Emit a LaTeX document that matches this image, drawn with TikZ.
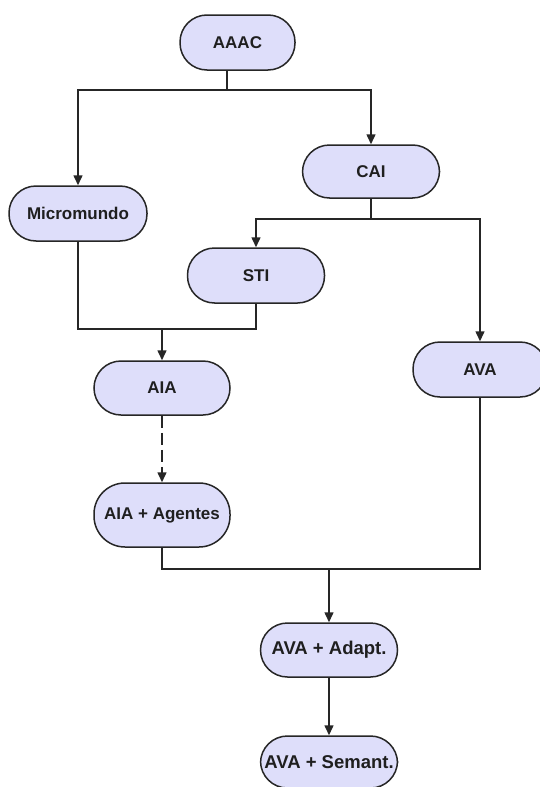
\documentclass[tikz,border=0pt]{standalone}
\usepackage{fontspec}
\setmainfont{Liberation Sans}
\usetikzlibrary{arrows.meta}
\definecolor{boxfill}{RGB}{222,222,250}
\definecolor{ink}{RGB}{38,38,38}
\begin{document}
\begin{tikzpicture}[x=1pt,y=-1pt,
  stage/.style={draw=ink, line width=1.5pt, fill=boxfill, rounded corners=27pt,
    minimum width=137pt, minimum height=55pt, inner sep=0pt,
    font=\fontsize{17}{20}\selectfont\bfseries, text=black!88},
  bigtext/.style={font=\fontsize{18.5}{21}\selectfont\bfseries},
  link/.style={draw=ink, line width=1.5pt},
  arr/.style={link, -{Triangle[length=10pt,width=9pt]}},
  dasharr/.style={arr, dash pattern=on 12pt off 5pt}
]
\useasboundingbox (0,0) rectangle (540,787);
\fill[white] (0,0) rectangle (540,787);

% stages
\node[stage, minimum width=115pt] (AAAC)  at (237.5,42.5) {AAAC};
\node[stage, minimum width=138pt] (Micro) at (78,213.5)   {Micromundo};
\node[stage, minimum height=53pt] (CAI)   at (371,171.5) {CAI};
\node[stage] (STI)    at (256,275.5) {STI};
\node[stage, minimum width=136pt, minimum height=54pt] (AIA) at (162,388) {AIA};
\node[stage, minimum width=134pt] (AVA)   at (480,369.5) {AVA};
\node[stage, minimum width=136pt, minimum height=64pt, rounded corners=31pt] (AIAag) at (162,515) {AIA + Agentes};
\node[stage, bigtext, minimum height=54pt] (AdaptN) at (329,650) {AVA + Adapt.};
\node[stage, bigtext, minimum height=52pt] (SemN)   at (329,762) {AVA + Semant.};

% junction points
\coordinate (j1) at (227,90);
\coordinate (j2) at (371,219);
\coordinate (j3) at (162,329);
\coordinate (j4) at (329,569);

% AAAC branches
\draw[link] ([xshift=-10.5pt]AAAC.south) -- (j1);
\draw[arr] (j1) -| (Micro.north);
\draw[arr] (j1) -| (CAI.north);

% CAI branches
\draw[link] (CAI.south) -- (j2);
\draw[arr] (j2) -| (STI.north);
\draw[arr] (j2) -| (AVA.north);

% Micromundo and STI merge into AIA
\draw[link] (Micro.south) |- (j3);
\draw[link] (STI.south) |- (j3);
\draw[arr] (j3) -- (AIA.north);

% AIA evolves into AIA + Agentes
\draw[dasharr] (AIA.south) -- (AIAag.north);

% AIA + Agentes and AVA merge into AVA + Adapt.
\draw[link] (AIAag.south) |- (j4);
\draw[link] (AVA.south) |- (j4);
\draw[arr] (j4) -- (AdaptN.north);

% AVA + Adapt. to AVA + Semant.
\draw[arr] (AdaptN.south) -- (SemN.north);
\end{tikzpicture}
\end{document}
